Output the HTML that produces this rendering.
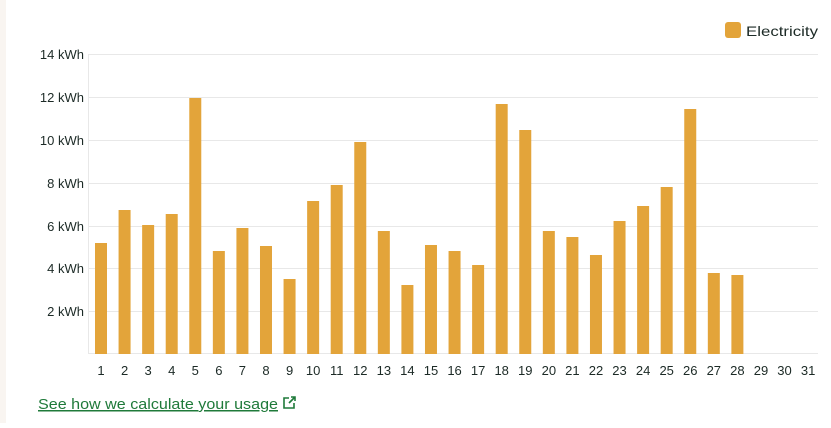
<!DOCTYPE html>
<html><head><style>
body{margin:0;width:831px;height:423px;background:#fff;overflow:hidden;font-family:"Liberation Sans",sans-serif}
</style></head><body>
<svg width="831" height="423" xmlns="http://www.w3.org/2000/svg" font-family="Liberation Sans, sans-serif">
<rect x="0" y="0" width="6" height="423" fill="#f9f5f1"/>
<rect x="725" y="22" width="16" height="16" rx="3" fill="#e3a43a"/>
<text x="746" y="36" font-size="14" fill="#1c2a26" textLength="72" lengthAdjust="spacingAndGlyphs">Electricity</text>
<g stroke="#e8e8e8" stroke-width="1">
<line x1="88" y1="54.5" x2="818" y2="54.5"/>
<line x1="88" y1="97.5" x2="818" y2="97.5"/>
<line x1="88" y1="140.5" x2="818" y2="140.5"/>
<line x1="88" y1="183.5" x2="818" y2="183.5"/>
<line x1="88" y1="226.5" x2="818" y2="226.5"/>
<line x1="88" y1="268.5" x2="818" y2="268.5"/>
<line x1="88" y1="311.5" x2="818" y2="311.5"/>
<line x1="88" y1="353.5" x2="818" y2="353.5"/>
<line x1="88.5" y1="54" x2="88.5" y2="354"/>
</g>
<g font-size="13" fill="#1c2a26" text-anchor="end">
<text x="84" y="59">14 kWh</text>
<text x="84" y="102">12 kWh</text>
<text x="84" y="145">10 kWh</text>
<text x="84" y="188">8 kWh</text>
<text x="84" y="231">6 kWh</text>
<text x="84" y="273">4 kWh</text>
<text x="84" y="316">2 kWh</text>
</g>
<g id="bars" fill="#e3a43a"></g>
<g id="labels" font-size="13" fill="#1c2a26" text-anchor="middle"></g>
<text x="38" y="409" font-size="15" fill="#1f7a3a" text-decoration="underline" textLength="240" lengthAdjust="spacingAndGlyphs">See how we calculate your usage</text>
<g stroke="#1f7a3a" stroke-width="1.6" fill="none">
<path d="M289 398h-5v10h10v-5"/><path d="M289 403l6-6M291 397h4v4"/>
</g>
</svg>
<script>
var tops=[243,210,225,214,98,251,228,246,279,201,185,142,231,285,245,251,265,104,130,231,237,255,221,206,187,109,273,275];
var b=document.getElementById('bars'),l=document.getElementById('labels'),ns='http://www.w3.org/2000/svg';
for(var i=0;i<31;i++){var c=101+i*23.57;
if(i<tops.length){var r=document.createElementNS(ns,'rect');r.setAttribute('x',c-6);r.setAttribute('y',tops[i]);r.setAttribute('width',12);r.setAttribute('height',354-tops[i]);b.appendChild(r);}
var t=document.createElementNS(ns,'text');t.setAttribute('x',c);t.setAttribute('y',375);t.textContent=i+1;l.appendChild(t);}
</script>
</body></html>
